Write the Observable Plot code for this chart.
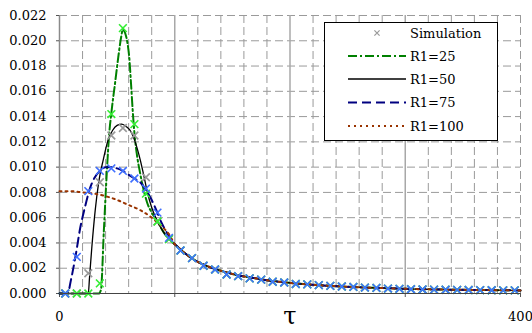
<!DOCTYPE html>
<html>
<head>
<meta charset="utf-8">
<script src="https://cdn.jsdelivr.net/npm/d3@7"></script>
<script src="https://cdn.jsdelivr.net/npm/@observablehq/plot@0.6"></script>
<style>
  body { margin: 0; background: #fff; }
  #wrap { position: relative; width: 532px; height: 333px; }
  #legend { position: absolute; left: 324px; top: 22px; width: 174px; height: 119px; border: 1px solid #000; background: #fff; box-sizing: border-box; }
  #legend svg { position: absolute; left: 0; top: 0; }
</style>
</head>
<body>
<div id="wrap"><div id="chart"></div><div id="legend"></div></div>
<script>
// ---- Model curves ----
const tau25 = [0, 34, 36, 38.5, 41, 43, 45, 48, 51, 53.5, 55, 57, 59, 60.5, 62, 63.5, 65, 67, 70, 73, 76, 80, 85, 90, 95];
const val25 = [0, 0, 0.0003, 0.005, 0.0095, 0.0125, 0.0143, 0.0165, 0.0187, 0.0203, 0.0209, 0.0206, 0.0198, 0.0187, 0.0167, 0.0145, 0.0127, 0.0111, 0.0095, 0.0082, 0.0072, 0.0064, 0.0057, 0.0049, 0.0043];

const tau50 = [0, 25, 26, 28, 31, 34, 38, 42, 46, 50, 54, 58, 62, 66, 70, 73, 76, 80, 85, 90, 95];
const val50 = [0, 0, 0.0012, 0.0036, 0.0066, 0.0088, 0.0106, 0.0121, 0.0129, 0.0133, 0.0134, 0.0132, 0.0128, 0.0119, 0.0106, 0.0094, 0.0081, 0.0068, 0.0057, 0.0049, 0.0043];

const tau75 = [0, 7, 10, 14, 18, 22, 26, 30, 35, 40, 45, 50, 55, 60, 65, 70, 75, 80, 84, 88, 92, 96];
const val75 = [0, 0, 0.0011, 0.0030, 0.0052, 0.0068, 0.0082, 0.0091, 0.0097, 0.0100, 0.0100, 0.0099, 0.0097, 0.0094, 0.0091, 0.0088, 0.0082, 0.0074, 0.0066, 0.0057, 0.0050, 0.0044];

const tau100 = [0, 10, 20, 30, 40, 50, 60, 70, 80, 90, 95];
const val100 = [0.0081, 0.0081, 0.0080, 0.0079, 0.0077, 0.0074, 0.0070, 0.0066, 0.0060, 0.0052, 0.0047];

// shared tail of all four model curves
const tailTau = [100, 105, 110, 120, 130, 140, 150, 160, 170, 180, 190, 200, 220, 240, 260, 280, 300, 320, 340, 360, 380, 400];
const tailVal = [0.0039, 0.0035, 0.0031, 0.0025, 0.0021, 0.0018, 0.00155, 0.00135, 0.0012, 0.00105, 0.00094, 0.00084, 0.00069, 0.00058, 0.00049, 0.00043, 0.00037, 0.00033, 0.0003, 0.00028, 0.00026, 0.00024];

// ---- Simulation points ----
const simHeadTau = [5, 15, 25, 35, 45, 55, 65, 75, 85, 95];
const sim25Head = [0, 0, 0, 0.0008, 0.0142, 0.0210, 0.0134, 0.0079, 0.0057, 0.0043];
const sim50Head = [0, 0, 0.0016, 0.0088, 0.0125, 0.0131, 0.0125, 0.0092, 0.0057, 0.0043];
const sim75Head = [0, 0.0029, 0.0081, 0.0097, 0.0099, 0.0097, 0.0091, 0.0083, 0.0064, 0.0044];
const simTailTau = [105, 115, 125, 135, 145, 155, 165, 175, 185, 195, 205, 215, 225, 235, 245, 255, 265, 275, 285, 295, 305, 315, 325, 335, 345, 355, 365, 375, 385, 395];
const simTail = [0.0034, 0.0028, 0.0022, 0.0019, 0.0015, 0.00137, 0.0012, 0.0011, 0.00093, 0.00087, 0.00075, 0.00072, 0.00066, 0.0006, 0.00055, 0.00052, 0.00047, 0.00044, 0.00039, 0.00037, 0.00034, 0.00032, 0.00031, 0.0003, 0.00029, 0.00028, 0.00027, 0.00026, 0.00025, 0.00025];

// ---- Axes ----
const yTicks = [0, 0.002, 0.004, 0.006, 0.008, 0.010, 0.012, 0.014, 0.016, 0.018, 0.020, 0.022];
const xTicks = [0, 100, 200, 300, 400];
const xLabelled = [0, 400];
const xMinor = [20, 40, 60, 80, 120, 140, 160, 180, 220, 240, 260, 280, 320, 340, 360, 380, 400];
const xMajor = [100, 200, 300];

// ---- Series ----
const seriesNames = ["R1=25", "R1=50", "R1=75", "R1=100"];
const lineColors = ["#008000", "#000000", "#000080", "#993300"];
const lineDash = ["9,3,2,3", null, "9,5", "2,4"];
const lineWidths = [2, 1.3, 2, 2];
const simColors = ["#33ee33", "#999999", "#3f6fff"];

const FONT = "DejaVu Serif";

const toPts = (ts, vs) => ts.map((t, i) => ({t, v: vs[i]}));
const tailPts = toPts(tailTau, tailVal);
const curves = [
  toPts(tau25, val25).concat(tailPts),
  toPts(tau50, val50).concat(tailPts),
  toPts(tau75, val75).concat(tailPts),
  toPts(tau100, val100).concat(tailPts)
];
const simTailPts = toPts(simTailTau, simTail);
const sims = [
  {pts: toPts(simHeadTau, sim50Head).concat(simTailPts), color: simColors[1]},
  {pts: toPts(simHeadTau, sim25Head).concat(simTailPts), color: simColors[0]},
  {pts: toPts(simHeadTau, sim75Head).concat(simTailPts), color: simColors[2]}
];

const lineMarks = curves.map((pts, i) => Plot.line(pts, {
  x: "t", y: "v", stroke: lineColors[i], strokeWidth: lineWidths[i],
  strokeDasharray: lineDash[i] || undefined, curve: "monotone-x"
}));
const dotMarks = sims.map(s => Plot.dot(s.pts, {
  x: "t", y: "v", symbol: "times", r: 3.6, stroke: s.color, strokeWidth: 1.6
}));

const chart = Plot.plot({
  width: 532, height: 333,
  marginLeft: 59, marginRight: 12, marginTop: 15, marginBottom: 40,
  x: {domain: [0, 400]},
  y: {domain: [0, 0.022]},
  style: {fontFamily: FONT, fontSize: "13px", color: "#000", background: "#fff"},
  marks: [
    Plot.ruleY(yTicks.slice(1), {stroke: "#9a9a9a", strokeWidth: 1, strokeDasharray: "8,4"}),
    Plot.ruleX(xMinor, {stroke: "#9a9a9a", strokeWidth: 1, strokeDasharray: "8,4"}),
    Plot.ruleX(xMajor, {stroke: "#a8a8a8", strokeWidth: 1.5}),
    Plot.ruleX([0], {stroke: "#8a8a8a", strokeWidth: 1.5}),
    Plot.axisY({ticks: yTicks, tickFormat: d3.format(".3f"), tickSize: 3, tickPadding: 10, label: null, stroke: "#555"}),
    Plot.axisX({ticks: xTicks, tickFormat: d => xLabelled.includes(d) ? String(d) : "", tickSize: 4, tickPadding: 14, label: null, stroke: "#555"}),
    ...lineMarks,
    ...dotMarks,
    Plot.ruleY([0], {stroke: "#444", strokeWidth: 1}),
    Plot.text(["τ"], {frameAnchor: "bottom", dy: 30, fontSize: 24, fill: "#000"})
  ]
});
document.getElementById("chart").appendChild(chart);

// ---- Legend ----
const legendLabels = ["Simulation"].concat(seriesNames);
const lsvg = d3.create("svg").attr("width", 172).attr("height", 117)
  .attr("font-family", FONT).attr("font-size", 13);
const rowY = [10, 33, 56, 79.5, 103];
legendLabels.forEach((lab, i) => {
  const y = rowY[i];
  if (i === 0) {
    const s = 2.6, cx = 52;
    lsvg.append("path").attr("d", `M${cx - s},${y - s}L${cx + s},${y + s}M${cx - s},${y + s}L${cx + s},${y - s}`)
      .attr("stroke", "#999").attr("stroke-width", 1.2);
  } else {
    const k = i - 1;
    const ln = lsvg.append("line").attr("x1", 23).attr("x2", 81).attr("y1", y).attr("y2", y)
      .attr("stroke", lineColors[k]).attr("stroke-width", lineWidths[k] + (k === 1 ? 0.3 : 0));
    if (lineDash[k]) ln.attr("stroke-dasharray", lineDash[k]);
  }
  lsvg.append("text").attr("x", 85).attr("y", y).attr("dy", "0.35em").attr("fill", "#000").text(lab);
});
document.getElementById("legend").appendChild(lsvg.node());
</script>
</body>
</html>
